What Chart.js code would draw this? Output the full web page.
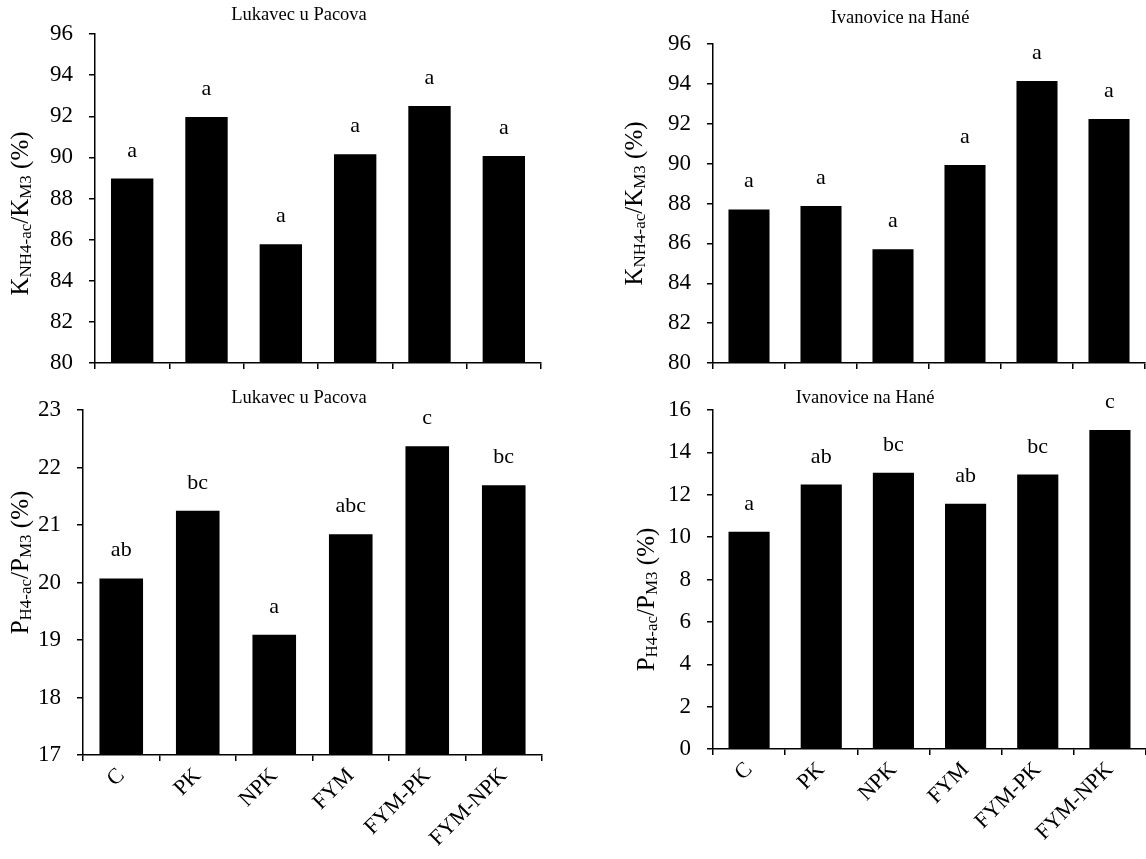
<!DOCTYPE html>
<html>
<head>
<meta charset="utf-8">
<script src="https://cdn.jsdelivr.net/npm/chart.js@4.4.1/dist/chart.umd.min.js"></script>
<style>
  body { margin: 0; background: #fff; }
  #wrap { position: relative; width: 1146px; height: 859px; overflow: hidden; }
  canvas { position: absolute; }
</style>
</head>
<body>
<div id="wrap">
  <canvas id="pLuk" width="573" height="479" style="left:0;top:380px"></canvas>
  <canvas id="pIva" width="573" height="479" style="left:573px;top:380px"></canvas>
  <canvas id="kLuk" width="573" height="400" style="left:0;top:0"></canvas>
  <canvas id="kIva" width="573" height="400" style="left:573px;top:0"></canvas>
</div>
<script>
const treatments = ['C', 'PK', 'NPK', 'FYM', 'FYM-PK', 'FYM-NPK'];

// K ratio (%)
const kLukavec = [88.97, 91.96, 85.77, 90.15, 92.5, 90.07];
const kIvanovice = [87.7, 87.87, 85.7, 89.93, 94.14, 92.24];
const kLukavecLetters = ['a', 'a', 'a', 'a', 'a', 'a'];
const kIvanoviceLetters = ['a', 'a', 'a', 'a', 'a', 'a'];

// P ratio (%)
const pLukavec = [20.07, 21.25, 19.09, 20.84, 22.37, 21.69];
const pIvanovice = [10.25, 12.48, 13.04, 11.57, 12.95, 15.06];
const pLukavecLetters = ['ab', 'bc', 'a', 'abc', 'c', 'bc'];
const pIvanoviceLetters = ['a', 'ab', 'bc', 'ab', 'bc', 'c'];

const kTicks = [80, 82, 84, 86, 88, 90, 92, 94, 96];
const pLukTicks = [17, 18, 19, 20, 21, 22, 23];
const pIvaTicks = [0, 2, 4, 6, 8, 10, 12, 14, 16];

const kTitle = [['K', 0], ['NH4-ac', 1], ['/K', 0], ['M3', 1], [' (%)', 0]];
const pTitle = [['P', 0], ['H4-ac', 1], ['/P', 0], ['M3', 1], [' (%)', 0]];

const FONT = "'Liberation Serif', 'DejaVu Serif', serif";

function makePanel(id, p) {
  const textPlugin = {
    id: 'panelText',
    afterDatasetsDraw(chart) {
      const ctx = chart.ctx;
      ctx.save();
      ctx.fillStyle = '#000';

      // significance letters over the bars
      ctx.font = '22px ' + FONT;
      ctx.textAlign = 'center';
      ctx.textBaseline = 'alphabetic';
      chart.getDatasetMeta(0).data.forEach((bar, i) => {
        ctx.fillText(p.letters[i], bar.x, bar.y - 22);
      });

      // panel title
      ctx.font = '18.5px ' + FONT;
      ctx.textBaseline = 'middle';
      ctx.fillText(p.title, p.titleX, p.titleY);

      // y axis title with subscripts
      const big = '25px ' + FONT, small = '17px ' + FONT;
      let total = 0;
      p.yTitle.forEach(([t, sub]) => {
        ctx.font = sub ? small : big;
        total += ctx.measureText(t).width;
      });
      const cy = (chart.chartArea.top + chart.chartArea.bottom) / 2 + p.yTitleShift;
      ctx.translate(p.yTitleX, cy);
      ctx.rotate(-Math.PI / 2);
      ctx.textAlign = 'left';
      ctx.textBaseline = 'middle';
      let x = -total / 2;
      p.yTitle.forEach(([t, sub]) => {
        ctx.font = sub ? small : big;
        ctx.fillText(t, x, sub ? 6 : 0);
        x += ctx.measureText(t).width;
      });
      ctx.restore();
    }
  };

  return new Chart(document.getElementById(id), {
    type: 'bar',
    data: {
      labels: treatments,
      datasets: [{
        data: p.values,
        backgroundColor: '#000',
        borderColor: '#000',
        borderWidth: 0,
        categoryPercentage: 1,
        barPercentage: 0.57
      }]
    },
    options: {
      responsive: false,
      animation: false,
      layout: { padding: { left: 0, top: p.top, right: p.right, bottom: p.bottom } },
      plugins: { legend: { display: false }, tooltip: { enabled: false } },
      scales: {
        x: {
          grid: { drawOnChartArea: false, color: '#000', lineWidth: 1.5, tickLength: 6, offset: true },
          border: { color: '#000', width: 1.5 },
          ticks: {
            display: p.showLabels,
            color: '#000',
            font: { family: FONT, size: 22 },
            minRotation: 45,
            maxRotation: 45,
            padding: 2
          },
          afterFit: s => { s.height = p.xHeight; }
        },
        y: {
          min: p.ticks[0],
          max: p.ticks[p.ticks.length - 1],
          afterBuildTicks: s => { s.ticks = p.ticks.map(v => ({ value: v })); },
          grid: { drawOnChartArea: false, color: '#000', lineWidth: 1.5, tickLength: 6 },
          border: { color: '#000', width: 1.5 },
          ticks: { color: '#000', font: { family: FONT, size: 23 }, padding: 16 },
          afterFit: s => { s.width = p.yWidth; }
        }
      }
    },
    plugins: [textPlugin]
  });
}

makePanel('kLuk', {
  values: kLukavec, letters: kLukavecLetters, ticks: kTicks, yTitle: kTitle,
  title: 'Lukavec u Pacova', titleX: 299, titleY: 15,
  yTitleX: 21, yTitleShift: 15,
  top: 34, right: 32, bottom: 32, yWidth: 95, xHeight: 5, showLabels: false
});

makePanel('kIva', {
  values: kIvanovice, letters: kIvanoviceLetters, ticks: kTicks, yTitle: kTitle,
  title: 'Ivanovice na Hané', titleX: 327, titleY: 18,
  yTitleX: 62, yTitleShift: 0,
  top: 44, right: 1, bottom: 32, yWidth: 140, xHeight: 5, showLabels: false
});

makePanel('pLuk', {
  values: pLukavec, letters: pLukavecLetters, ticks: pLukTicks, yTitle: pTitle,
  title: 'Lukavec u Pacova', titleX: 299, titleY: 18,
  yTitleX: 21, yTitleShift: -20,
  top: 30, right: 31, bottom: 0, yWidth: 83, xHeight: 104, showLabels: true
});

makePanel('pIva', {
  values: pIvanovice, letters: pIvanoviceLetters, ticks: pIvaTicks, yTitle: pTitle,
  title: 'Ivanovice na Hané', titleX: 292, titleY: 18,
  yTitleX: 74, yTitleShift: 20,
  top: 30, right: 0, bottom: 0, yWidth: 140, xHeight: 110, showLabels: true
});
</script>
</body>
</html>
